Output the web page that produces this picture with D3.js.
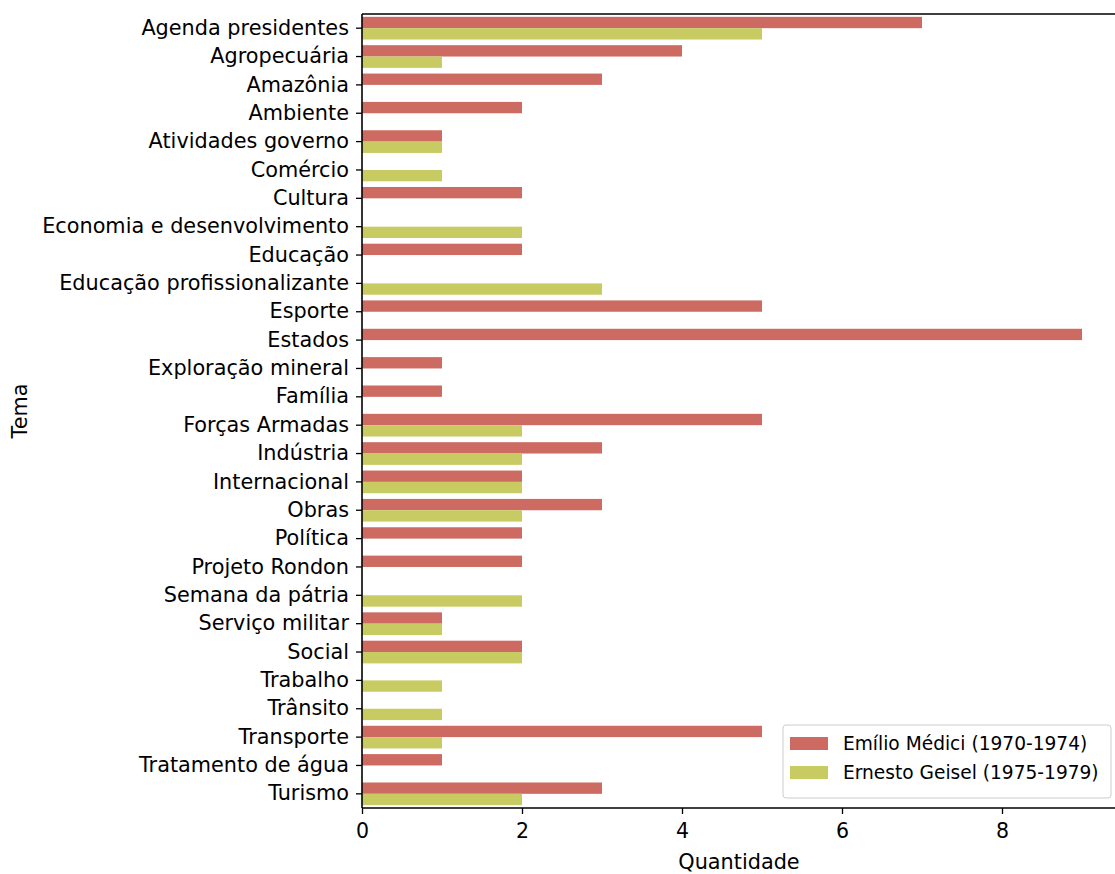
<!DOCTYPE html>
<html><head><meta charset="utf-8">
<script src="https://cdn.jsdelivr.net/npm/d3@7"></script>
<style>body{margin:0;background:#fff}svg{font-family:"DejaVu Sans",sans-serif}</style>
</head><body><svg id="c" width="1115" height="874"></svg>
<script>
const categories = ["Agenda presidentes","Agropecuária","Amazônia","Ambiente","Atividades governo","Comércio","Cultura","Economia e desenvolvimento","Educação","Educação profissionalizante","Esporte","Estados","Exploração mineral","Família","Forças Armadas","Indústria","Internacional","Obras","Política","Projeto Rondon","Semana da pátria","Serviço militar","Social","Trabalho","Trânsito","Transporte","Tratamento de água","Turismo"];
const medici = [7,4,3,2,1,0,2,0,2,0,5,9,1,1,5,3,2,3,2,2,0,1,2,0,0,5,1,3];
const geisel = [5,1,0,0,1,1,0,2,0,3,0,0,0,0,2,2,2,2,0,0,2,1,2,1,1,1,0,2];
const seriesNames = ["Emílio Médici (1970-1974)","Ernesto Geisel (1975-1979)"];
const colors = ["#cd6b63","#c8cb62"];
const xTicks = [0,2,4,6,8];

const svg = d3.select("#c");
const L=362, R=1118, T=14, B=808;
const x = d3.scaleLinear().domain([0,9.45]).range([L,R]);
const y = d3.scaleBand().domain(categories).range([T,B]).paddingInner(0.2).paddingOuter(0.1);
const sub = d3.scaleBand().domain([0,1]).range([0,y.bandwidth()]);

const series=[medici,geisel];
series.forEach((vals,si)=>{
  svg.append("g").selectAll("rect").data(categories).join("rect")
    .attr("x",x(0)).attr("y",d=>y(d)+sub(si))
    .attr("width",(d,i)=>x(vals[i])-x(0)).attr("height",sub.bandwidth())
    .attr("fill",colors[si]);
});

const yb = d3.scaleBand().domain(categories).range([T,B]);
const ya = svg.append("g").attr("transform",`translate(${L},0)`)
  .call(d3.axisLeft(yb).tickSize(6).tickPadding(7));
ya.select(".domain").remove();
ya.selectAll("text").attr("font-size",20.8).attr("fill","#000").attr("font-family","DejaVu Sans");
ya.selectAll("line").attr("stroke","#000").attr("stroke-width",1.3);

const xa = svg.append("g").attr("transform",`translate(0,${B})`)
  .call(d3.axisBottom(x).tickValues(xTicks).tickSize(6).tickPadding(9));
xa.select(".domain").remove();
xa.selectAll("text").attr("font-size",20.5).attr("fill","#000").attr("font-family","DejaVu Sans");
xa.selectAll("line").attr("stroke","#000").attr("stroke-width",1.3);

svg.append("line").attr("x1",L).attr("x2",L).attr("y1",T).attr("y2",B).attr("stroke","#000").attr("stroke-width",1.6);
svg.append("line").attr("x1",L).attr("x2",R).attr("y1",B).attr("y2",B).attr("stroke","#000").attr("stroke-width",1.6);
svg.append("line").attr("x1",L).attr("x2",R).attr("y1",T).attr("y2",T).attr("stroke","#000").attr("stroke-width",1.6);

svg.append("text").attr("x",739).attr("y",869).attr("text-anchor","middle").attr("font-size",20.8).text("Quantidade");
svg.append("text").attr("transform","translate(27,411) rotate(-90)").attr("text-anchor","middle").attr("font-size",20.8).text("Tema");

const lg = svg.append("g").attr("transform","translate(783,725)");
lg.append("rect").attr("width",328).attr("height",73).attr("rx",3).attr("fill","#fff").attr("fill-opacity",0.8).attr("stroke","#ccc");
seriesNames.forEach((n,i)=>{
  lg.append("rect").attr("x",7).attr("y",12+i*29).attr("width",38).attr("height",13).attr("fill",colors[i]);
  lg.append("text").attr("x",60).attr("y",25+i*29).attr("font-size",18.6).text(n);
});
</script></body></html>
